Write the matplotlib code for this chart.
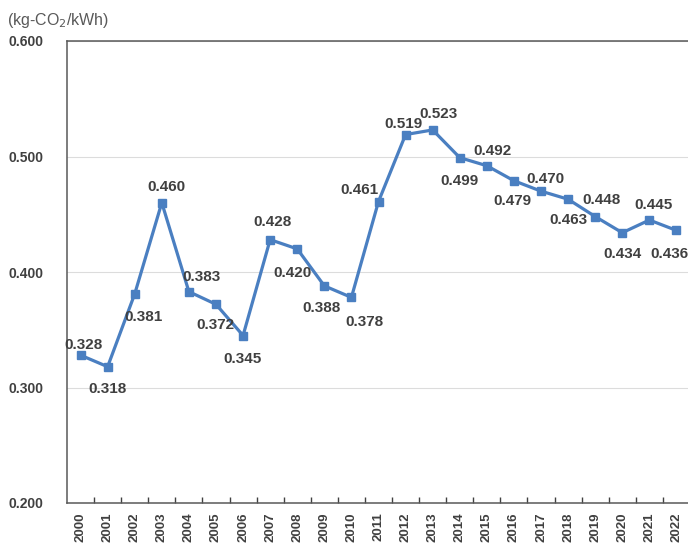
import matplotlib
matplotlib.use("Agg")
import matplotlib.pyplot as plt

# CO2 emission factor per year
years = [str(y) for y in range(2000, 2023)]
factors = [0.328, 0.318, 0.381, 0.460, 0.383, 0.372, 0.345, 0.428, 0.420,
           0.388, 0.378, 0.461, 0.519, 0.523, 0.499, 0.492, 0.479, 0.470,
           0.463, 0.448, 0.434, 0.445, 0.436]

# label shifts in pixels (dx right, dy down) so labels don't sit on the line
label_shift = [(3, -10), (0, 22), (9, 23), (5, -16), (13, -15), (-1, 21),
               (-1, 23), (2, -18), (-5, 24), (-3, 22), (13, 25), (-19, -12),
               (-2, -11), (6, -16), (0, 23), (6, -15), (-1, 20), (4, -12),
               (0, 21), (6, -17), (0, 21), (4, -15), (-7, 24)]

y_ticks = [0.2, 0.3, 0.4, 0.5, 0.6]

plt.rcParams['font.family'] = ['Liberation Sans', 'DejaVu Sans']
txt = '#404040'
blue = '#4a7fc1'

fig = plt.figure(figsize=(6.88, 5.45), dpi=100)
ax = fig.add_axes([67 / 688, 42 / 545, 623 / 688, 462 / 545])

x = list(range(len(years)))
ax.plot(x, factors, color=blue, lw=2.3, marker='s', ms=6, zorder=3)

for i, v in enumerate(factors):
    dx, dy = label_shift[i]
    ax.annotate('%.3f' % v, (i, v), xytext=(dx, -dy), textcoords='offset pixels',
                ha='center', va='center', fontsize=11, fontweight='bold',
                color=txt, zorder=4)

ax.set_xlim(-0.5, len(years) - 0.5)
ax.set_ylim(0.2, 0.6)
ax.set_yticks(y_ticks)
ax.set_yticklabels(['%.3f' % t for t in y_ticks], fontsize=10, fontweight='bold', color=txt)
ax.tick_params(axis='y', length=0, pad=17)

ax.set_xticks([i + 0.5 for i in x[:-1]], minor=False)
ax.set_xticklabels([])
ax.set_xticks(x, minor=True)
ax.set_xticklabels(years, minor=True, rotation=90, fontsize=9.5,
                   fontweight='bold', color=txt)
ax.tick_params(axis='x', which='major', direction='in', length=4, width=1, color='#404040')
ax.tick_params(axis='x', which='minor', length=0, pad=7)

ax.yaxis.grid(True, color='#dcdcdc', lw=0.8)
ax.set_axisbelow(True)
for s in ax.spines.values():
    s.set_color('#595959')
    s.set_linewidth(1.1)

fig.text(7 / 688, 1 - 20 / 545, '(kg-CO$_2$/kWh)', fontsize=11.5, color='#595959',
         ha='left', va='center')

fig.savefig('out.png', dpi=100)
